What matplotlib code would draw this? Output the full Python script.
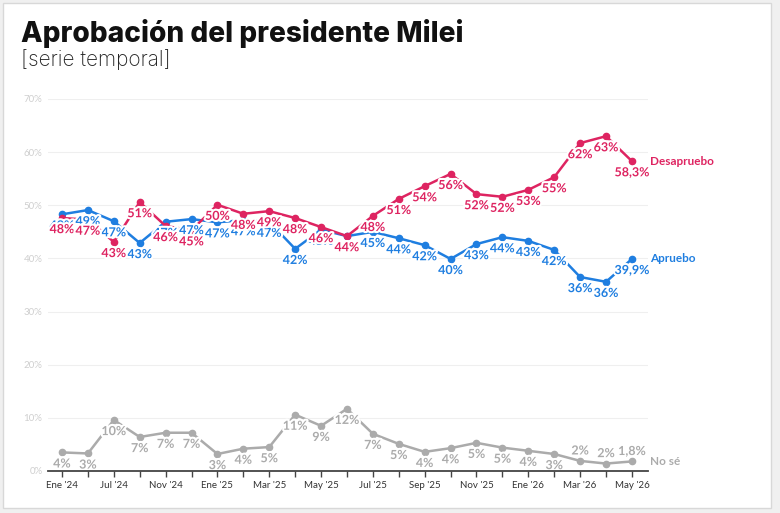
import matplotlib.pyplot as plt
import matplotlib.patheffects as pe
from matplotlib.patches import Rectangle

tick_labels = ["Ene '24", "Jul '24", "Nov '24", "Ene '25", "Mar '25", "May '25",
               "Jul '25", "Sep '25", "Nov '25", "Ene '26", "Mar '26", "May '26"]

apruebo = [48.3, 49.1, 47.0, 42.9, 46.9, 47.4, 46.8, 47.2, 46.9, 41.8, 45.4, 44.2,
           45.0, 43.8, 42.5, 39.9, 42.7, 44.0, 43.3, 41.6, 36.5, 35.6, 39.9]
apruebo_lbl = ['48%', '49%', '47%', '43%', '47%', '47%', '47%', '47%', '47%', '42%', '45%', '44%',
               '45%', '44%', '42%', '40%', '43%', '44%', '43%', '42%', '36%', '36%', '39,9%']

desapruebo = [47.6, 47.3, 43.1, 50.6, 46.1, 45.3, 50.1, 48.4, 48.9, 47.6, 45.9, 44.2,
              48.0, 51.2, 53.6, 55.9, 52.1, 51.6, 52.9, 55.3, 61.7, 63.0, 58.3]
desapruebo_lbl = ['48%', '47%', '43%', '51%', '46%', '45%', '50%', '48%', '49%', '48%', '46%', '44%',
                  '48%', '51%', '54%', '56%', '52%', '52%', '53%', '55%', '62%', '63%', '58,3%']

nose = [3.5, 3.3, 9.6, 6.4, 7.2, 7.2, 3.2, 4.2, 4.5, 10.6, 8.5, 11.7,
        7.0, 5.1, 3.6, 4.3, 5.3, 4.4, 3.8, 3.2, 1.9, 1.4, 1.8]
nose_lbl = ['4%', '3%', '10%', '7%', '7%', '7%', '3%', '4%', '5%', '11%', '9%', '12%',
            '7%', '5%', '4%', '4%', '5%', '5%', '4%', '3%', '2%', '2%', '1,8%']

c_apr = '#1f7ee0'
c_des = '#de2461'
c_nos = '#ababab'

plt.rcParams['font.family'] = ['Lato', 'DejaVu Sans']

fig = plt.figure(figsize=(7.8, 5.13), dpi=100, facecolor='#f0f0f0')
W, H = 780, 513
fig.patches.append(Rectangle((3 / W, 1 - 508 / H), 768 / W, 505 / H, transform=fig.transFigure,
                             facecolor='white', edgecolor='#d8d8d8', lw=1, zorder=-10))

fig.text(21 / W, 1 - 42 / H, 'Aprobación del presidente Milei', fontsize=20.2, fontweight='heavy',
         family=['Inter', 'DejaVu Sans'], color='#111111')
fig.text(21 / W, 1 - 66 / H, '[serie temporal]', fontsize=15, fontweight='light',
         family=['Inter', 'DejaVu Sans'], color='#222222')

ax = fig.add_axes([48 / W, 1 - 471 / H, 600 / W, 372 / H])
ax.set_facecolor('none')
x = list(range(len(apruebo)))
ax.set_xlim(-0.54, 22.62)
ax.set_ylim(0, 70)

for s in ['top', 'right', 'left']:
    ax.spines[s].set_visible(False)
ax.spines['bottom'].set_color('#444444')
ax.spines['bottom'].set_linewidth(1.3)
ax.spines['bottom'].set_zorder(6)

ax.set_yticks(range(0, 71, 10))
ax.set_yticklabels([f'{v}%' for v in range(0, 71, 10)], color='#cfcfcf', fontsize=7)
ax.tick_params(axis='y', length=0, pad=4)
ax.grid(axis='y', color='#efefef', lw=0.8)
ax.set_axisbelow(True)

ax.set_xticks(x)
ax.set_xticklabels([tick_labels[i // 2] if i % 2 == 0 else '' for i in x], fontsize=7, color='#333333')
ax.tick_params(axis='x', length=4, width=1, color='#444444', pad=3)

halo = [pe.withStroke(linewidth=3, foreground='white')]

series = [(nose, nose_lbl, c_nos), (apruebo, apruebo_lbl, c_apr), (desapruebo, desapruebo_lbl, c_des)]
for vals, lbls, col in series:
    ax.plot(x, vals, color=col, lw=1.8, marker='o', markersize=4.5, zorder=3, clip_on=False)

for vals, lbls, col in series:
    for i, (v, t) in enumerate(zip(vals, lbls)):
        dy = -8
        if col == c_nos and i >= 20:
            dy = 7.5
        ax.annotate(t, (i, v), xytext=(0, dy), textcoords='offset points', ha='center', va='center',
                    fontsize=9, fontweight='bold', color=col, path_effects=halo, zorder=4,
                    annotation_clip=False)

ax.annotate('Desapruebo', (22, desapruebo[-1]), xytext=(13, 0), textcoords='offset points',
            va='center', ha='left', fontsize=8.5, fontweight='bold', color=c_des, annotation_clip=False)
ax.annotate('Apruebo', (22, apruebo[-1]), xytext=(13, 0), textcoords='offset points',
            va='center', ha='left', fontsize=8.5, fontweight='bold', color=c_apr, annotation_clip=False)
ax.annotate('No sé', (22, nose[-1]), xytext=(13, 0), textcoords='offset points',
            va='center', ha='left', fontsize=8.5, fontweight='bold', color=c_nos, annotation_clip=False)

plt.savefig('out.png', dpi=100, facecolor=fig.get_facecolor())
